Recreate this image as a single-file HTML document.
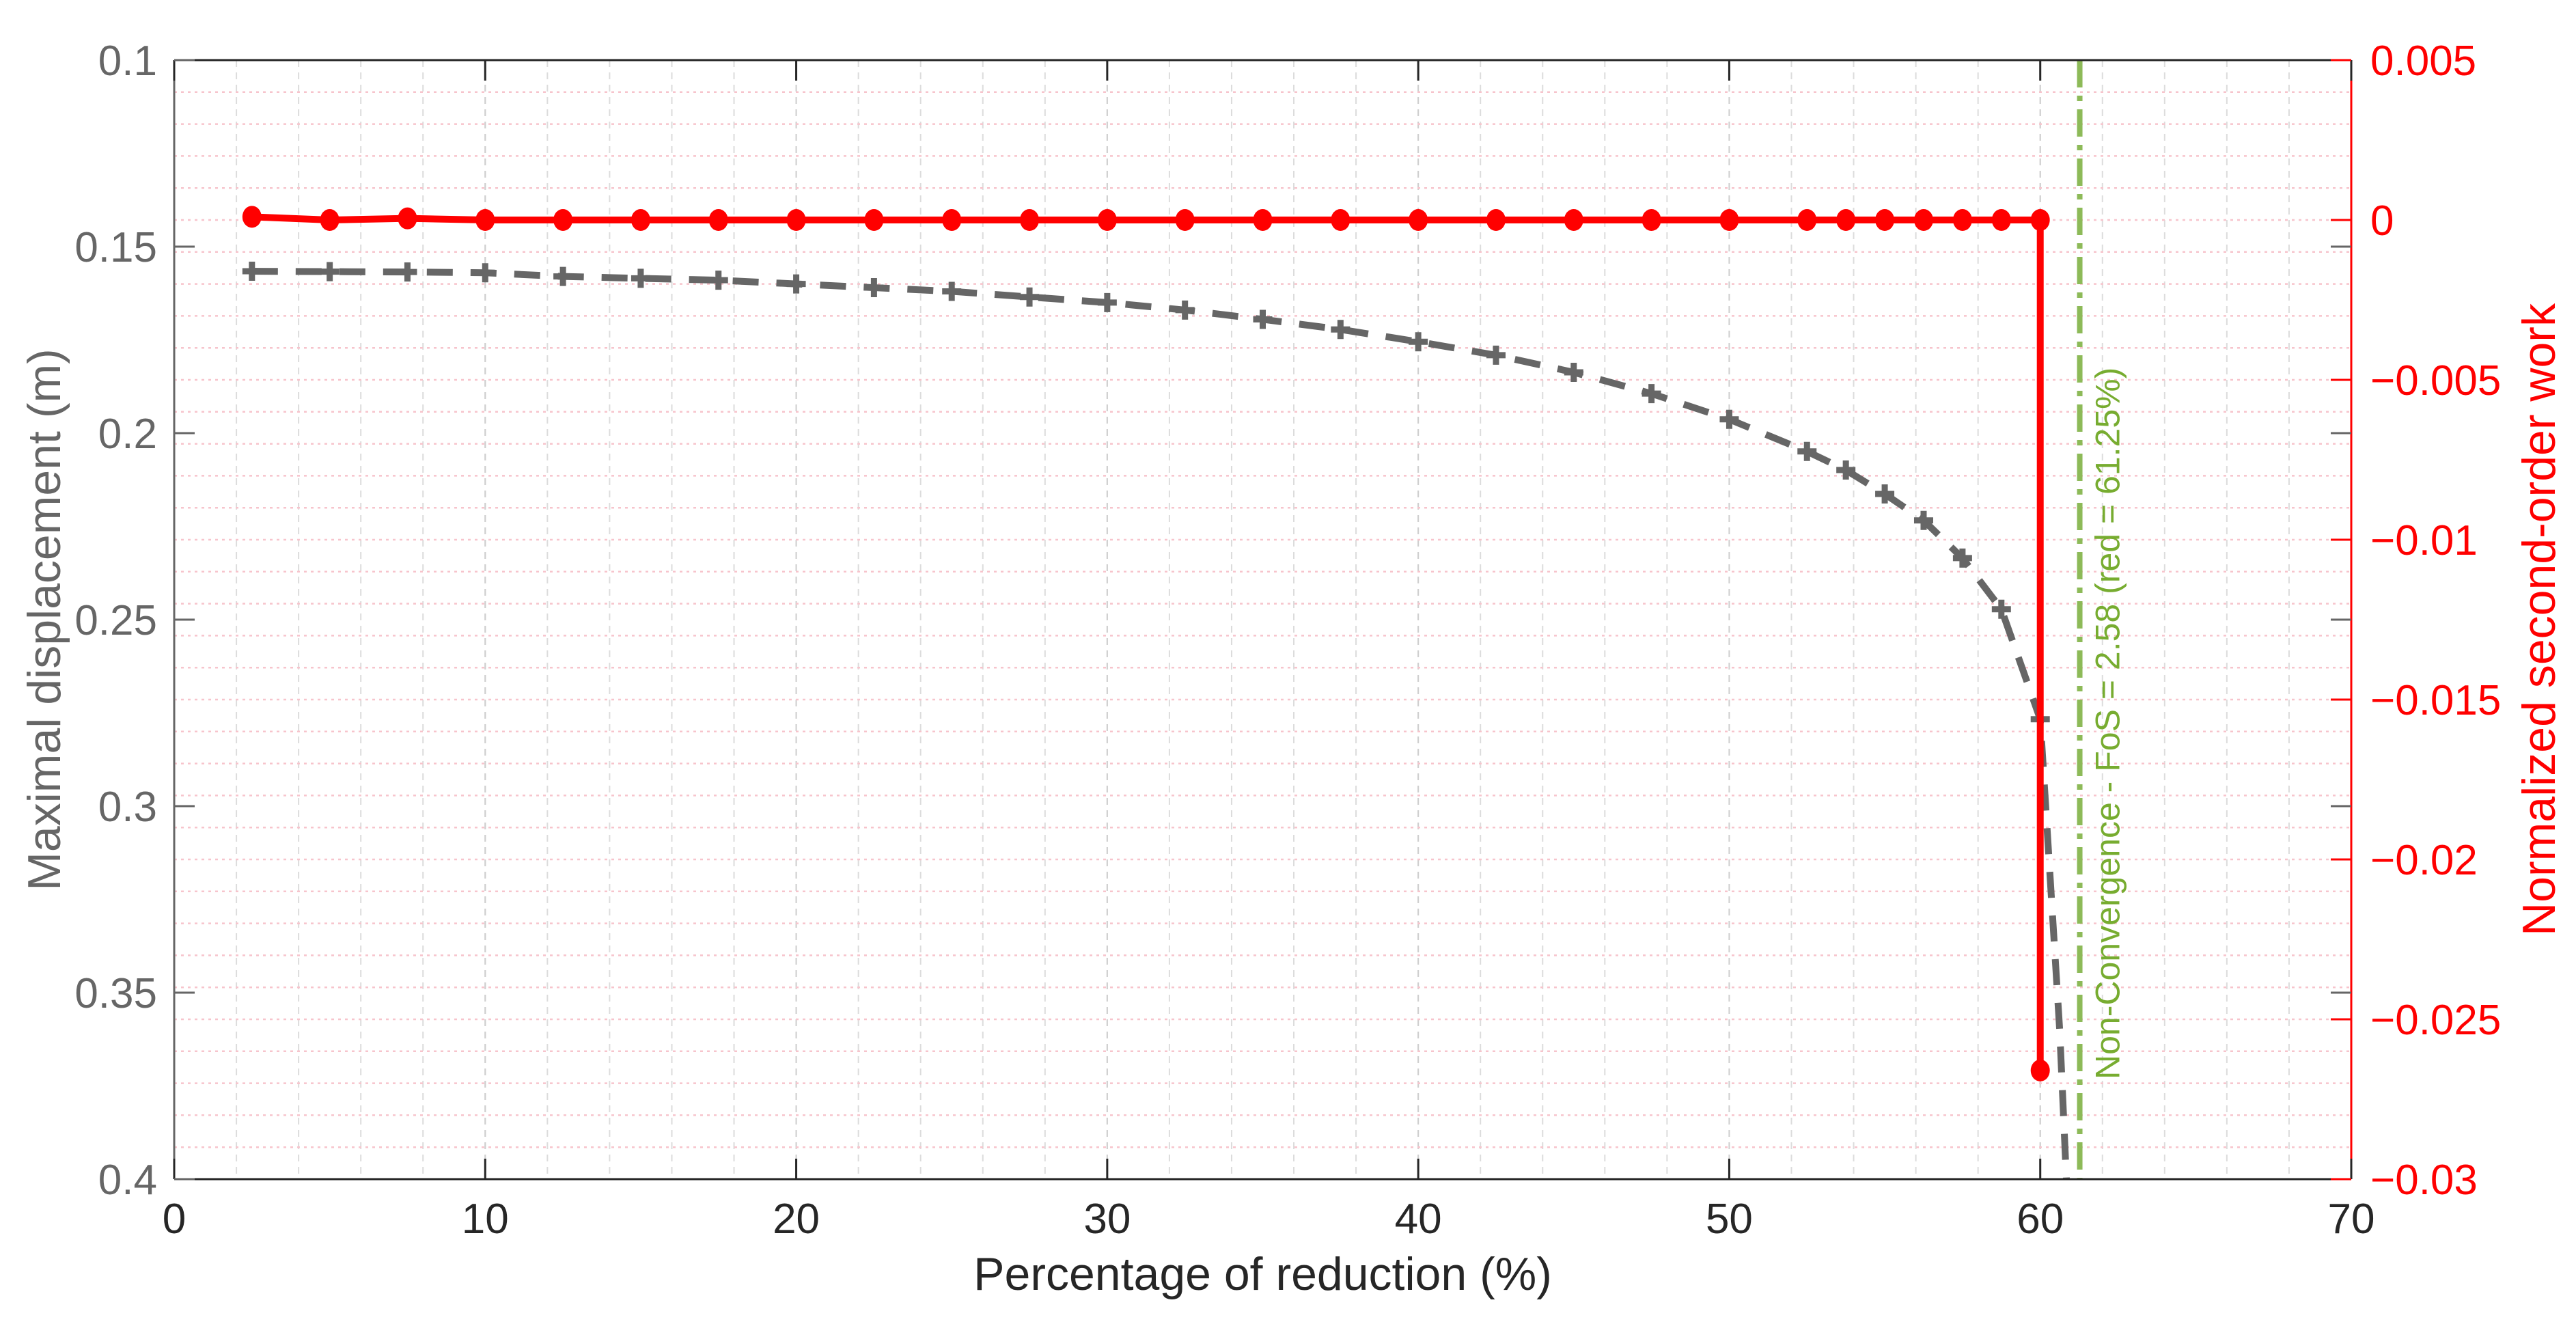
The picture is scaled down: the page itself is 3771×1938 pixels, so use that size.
<!DOCTYPE html>
<html><head><meta charset="utf-8"><style>
html,body{margin:0;padding:0;background:#fff;overflow:hidden;width:3771px;height:1938px;}
svg{display:block;font-family:"Liberation Sans",sans-serif;}
</style></head><body>
<svg id="chart" width="3771" height="1938" viewBox="0 0 3771 1938" xmlns="http://www.w3.org/2000/svg">
<defs><clipPath id="plotclip"><rect x="255" y="88" width="3187" height="1638"/></clipPath></defs>
<g id="grid"></g>
<g id="series" clip-path="url(#plotclip)"></g>
<g id="axes"></g>
</svg>
<script>
const xTicks = [0,10,20,30,40,50,60,70];
const yLeftTicks = [0.1,0.15,0.2,0.25,0.3,0.35,0.4];
const yLeftLabels = ["0.1","0.15","0.2","0.25","0.3","0.35","0.4"];
const yRightTicks = [0.005,0,-0.005,-0.01,-0.015,-0.02,-0.025,-0.03];
const yRightLabels = ["0.005","0","\u22120.005","\u22120.01","\u22120.015","\u22120.02","\u22120.025","\u22120.03"];
const dispX = [2.5,5,7.5,10,12.5,15,17.5,20,22.5,25,27.5,30,32.5,35,37.5,40,42.5,45,47.5,50,52.5,53.75,55,56.25,57.5,58.75,60];
const dispY = [0.1566,0.1567,0.1568,0.157,0.158,0.1585,0.159,0.160,0.161,0.162,0.1635,0.165,0.167,0.1695,0.1722,0.1755,0.1791,0.1837,0.1894,0.1963,0.2049,0.2099,0.2163,0.2234,0.2335,0.2472,0.2767];
const dispTailX = [60.625,61.25];
const dispTailY = [0.36,0.476];
const workX = [2.5,5,7.5,10,12.5,15,17.5,20,22.5,25,27.5,30,32.5,35,37.5,40,42.5,45,47.5,50,52.5,53.75,55,56.25,57.5,58.75,60,60];
const workY = [0.0001,0,0.00005,0,0,0,0,0,0,0,0,0,0,0,0,0,0,0,0,0,0,0,0,0,0,0,0,-0.0266];
const fosX = [61.27];
const fosLabel = ["Non-Convergence - FoS = 2.58 (red = 61.25%)"];

const L=255,R=3442,T=88,B=1726,NS="http://www.w3.org/2000/svg";
const sx=v=>L+(v-0)/(70-0)*(R-L);
const syL=v=>T+(v-0.1)/(0.4-0.1)*(B-T);
const syR=v=>T+(0.005-v)/(0.005+0.03)*(B-T);
function mk(tag,attrs,parent,text){const e=document.createElementNS(NS,tag);for(const k in attrs)e.setAttribute(k,attrs[k]);if(text!==undefined)e.textContent=text;parent.appendChild(e);return e;}
const grid=document.getElementById('grid'),series=document.getElementById('series'),axes=document.getElementById('axes');

for(let v=2;v<70;v+=2){const g=mk('line',{x1:sx(v),x2:sx(v),y1:T,y2:B,stroke:'#dcdcdc','stroke-width':2,'stroke-dasharray':'10 8'},grid);

}
for(let v=10;v<70;v+=10){const g=mk('line',{x1:sx(v),x2:sx(v),y1:T,y2:B,stroke:'#cfcfcf','stroke-width':2,'stroke-dasharray':'10 8'},grid);

}
for(let i=1;i<35;i++){const v=0.005-i*0.001;const g=mk('line',{x1:L,x2:R,y1:syR(v),y2:syR(v),stroke:'#f7c4cc','stroke-width':2.5,'stroke-dasharray':'4 6'},grid);

}

const allX=dispX.concat(dispTailX), allY=dispY.concat(dispTailY);
let d=allX.map((x,i)=>(i?'L':'M')+sx(x)+','+syL(allY[i])).join(' ');
const dl=mk('path',{d:d,fill:'none',stroke:'#666','stroke-width':10,'stroke-dasharray':'38 26'},series);


dispX.forEach((x,i)=>{const p=mk('path',{d:`M${sx(x)-14},${syL(dispY[i])}h28M${sx(x)},${syL(dispY[i])-14}v28`,stroke:'#666','stroke-width':9,fill:'none'},series);

});

fosX.forEach(x=>{const f=mk('line',{x1:sx(x),x2:sx(x),y1:T,y2:B,stroke:'#8dba58','stroke-width':8,'stroke-dasharray':'40 12 8 12'},series);


const t=mk('text',{x:0,y:0,transform:`translate(${sx(x)+58},1580) rotate(-90)`,'font-size':50,fill:'#77ac30'},series,fosLabel[0]);

});

d=workX.map((x,i)=>(i?'L':'M')+sx(x)+','+syR(workY[i])).join(' ');
const wl=mk('path',{d:d,fill:'none',stroke:'#ff0000','stroke-width':10,'stroke-linejoin':'round'},series);


workX.forEach((x,i)=>{const c=mk('ellipse',{cx:sx(x),cy:syR(workY[i]),rx:14,ry:16,fill:'#ff0000'},series);

});

[[L,T,R,T,'#262626'],[L,B,R,B,'#262626'],[L,T,L,B,'#666'],[R,T,R,B,'#ff0000']].forEach(a=>{const l=mk('line',{x1:a[0],y1:a[1],x2:a[2],y2:a[3],stroke:a[4],'stroke-width':3},axes);

});
xTicks.forEach(v=>{const X=sx(v);
const t1=mk('path',{d:`M${X},${B}v-30M${X},${T}v30`,stroke:'#262626','stroke-width':3},axes);


const lb=mk('text',{x:X,y:1805,'text-anchor':'middle','font-size':62,fill:'#262626'},axes,String(v));

});
yLeftTicks.forEach((v,i)=>{const Y=syL(v);
const t1=mk('path',{d:`M${L},${Y}h30M${R},${Y}h-30`,stroke:'#666','stroke-width':3},axes);


const lb=mk('text',{x:230,y:Y+22,'text-anchor':'end','font-size':62,fill:'#666'},axes,yLeftLabels[i]);

});
yRightTicks.forEach((v,i)=>{const Y=syR(v);
const t1=mk('path',{d:`M${R},${Y}h-30`,stroke:'#ff0000','stroke-width':3},axes);


const lb=mk('text',{x:3470,y:Y+22,'text-anchor':'start','font-size':62,fill:'#ff0000'},axes,yRightLabels[i]);

});
const xl=mk('text',{x:(L+R)/2,y:1888,'text-anchor':'middle','font-size':68,fill:'#262626'},axes,'Percentage of reduction (%)');


const yl=mk('text',{x:0,y:0,transform:`translate(88,${(T+B)/2}) rotate(-90)`,'text-anchor':'middle','font-size':68,fill:'#666'},axes,'Maximal displacement (m)');


const yr=mk('text',{x:0,y:0,transform:`translate(3740,${(T+B)/2}) rotate(-90)`,'text-anchor':'middle','font-size':68,fill:'#ff0000'},axes,'Normalized second-order work');


</script>
</body></html>
